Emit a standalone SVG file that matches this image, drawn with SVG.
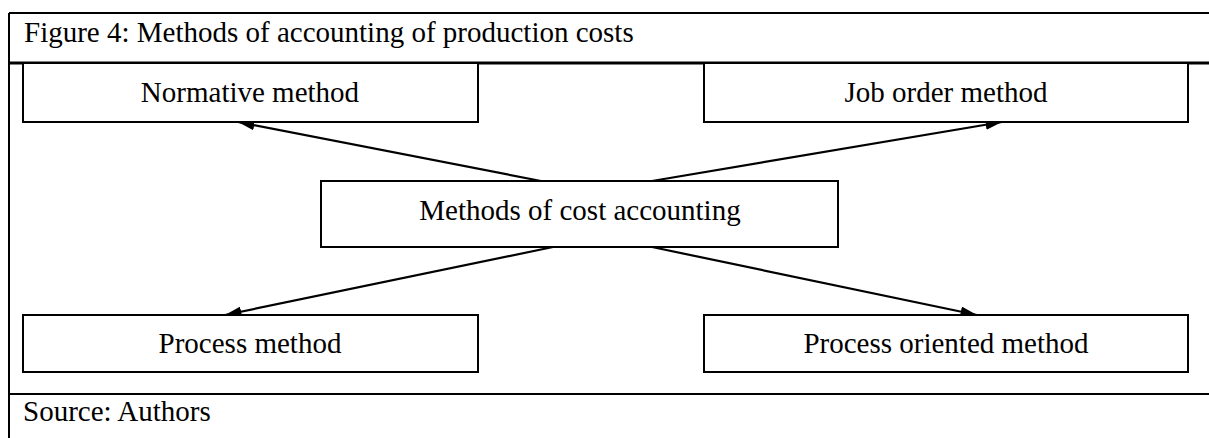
<svg xmlns="http://www.w3.org/2000/svg" width="1209" height="438" viewBox="0 0 1209 438">
  <style>
    .frame { fill: none; stroke: #000; stroke-width: 2; }
    .box { fill: #fff; stroke: #000; stroke-width: 2; }
    .edge { stroke: #000; stroke-width: 2.2; fill: none; }
    text { font-family: "Liberation Serif", "Times New Roman", serif; font-size: 29px; fill: #000; }
    .label { text-anchor: middle; }
  </style>
  <defs>
    <marker id="arrow" viewBox="0 0 16 10" refX="16" refY="5" markerWidth="7.5" markerHeight="4.7" markerUnits="strokeWidth" orient="auto">
      <path d="M0,0 L16,5 L0,10 z" fill="#000"/>
    </marker>
  </defs>
  <rect width="1209" height="438" fill="#fff"/>

  <!-- table frame with caption row and source row -->
  <g id="frame">
    <line class="frame" x1="9" y1="13" x2="1209" y2="13"/>
    <line class="frame" x1="9" y1="13" x2="9" y2="438"/>
    <line x1="9" y1="63" x2="1209" y2="63" stroke="#000" stroke-width="3"/>
    <line class="frame" x1="9" y1="394" x2="1209" y2="394"/>
    <text x="24" y="42">Figure 4: Methods of accounting of production costs</text>
    <text x="23" y="421">Source: Authors</text>
  </g>

  <g id="connectors">
    <line class="edge" x1="541" y1="181" x2="238" y2="122" marker-end="url(#arrow)"/>
    <line class="edge" x1="652" y1="181" x2="1002" y2="122" marker-end="url(#arrow)"/>
    <line class="edge" x1="553" y1="247" x2="225" y2="315" marker-end="url(#arrow)"/>
    <line class="edge" x1="652" y1="247" x2="977" y2="315" marker-end="url(#arrow)"/>
  </g>

  <g id="node-normative">
    <rect class="box" x="23" y="63" width="455" height="59"/>
    <text class="label" x="250" y="102">Normative method</text>
  </g>
  <g id="node-job-order">
    <rect class="box" x="704" y="63" width="484" height="59"/>
    <text class="label" x="946" y="102">Job order method</text>
  </g>
  <g id="node-center">
    <rect class="box" x="321" y="181" width="517" height="66"/>
    <text class="label" x="580" y="220">Methods of cost accounting</text>
  </g>
  <g id="node-process">
    <rect class="box" x="23" y="315" width="455" height="57"/>
    <text class="label" x="250" y="353">Process method</text>
  </g>
  <g id="node-process-oriented">
    <rect class="box" x="704" y="315" width="484" height="57"/>
    <text class="label" x="946" y="353">Process oriented method</text>
  </g>
</svg>
